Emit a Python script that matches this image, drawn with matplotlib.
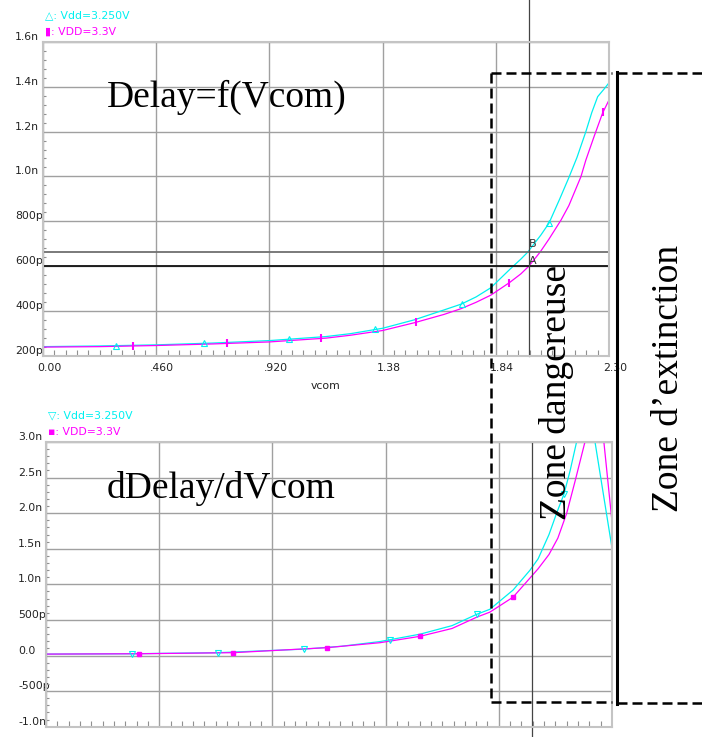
import numpy as np
import matplotlib
matplotlib.use("Agg")
import matplotlib.pyplot as plt
from matplotlib.lines import Line2D
from matplotlib.ticker import MultipleLocator
import matplotlib.transforms as mtransforms

# ---- Delay = f(Vcom), delay in ps ----
vcom_delay_3250 = [0.00, 0.23, 0.46, 0.69, 0.92, 1.15, 1.25, 1.38, 1.51, 1.63, 1.70,
                   1.76, 1.82, 1.897, 1.942, 1.969, 2.023, 2.056, 2.10, 2.137, 2.17,
                   2.206, 2.23, 2.254, 2.28, 2.30]
delay_vdd_3250 = [240, 243, 248, 256, 267, 285, 298, 322, 360, 404, 430,
                  462, 503, 585, 631, 661, 738, 791, 900, 995, 1085,
                  1200, 1285, 1356, 1390, 1418]

vcom_delay_3300 = [0.00, 0.23, 0.46, 0.69, 0.92, 1.15, 1.25, 1.38, 1.51, 1.63, 1.70,
                   1.76, 1.82, 1.897, 1.942, 1.975, 2.02, 2.056, 2.105, 2.137, 2.186,
                   2.206, 2.24, 2.274, 2.30]
delay_vdd_3300 = [238, 240, 245, 252, 261, 278, 291, 312, 347, 384, 410,
                  438, 470, 527, 565, 600, 662, 720, 805, 870, 999,
                  1073, 1180, 1283, 1341]

# ---- dDelay/dVcom, in ns/V ----
vcom_deriv_3250 = [0.00, 0.349, 0.70, 1.05, 1.20, 1.357, 1.52, 1.65, 1.751, 1.804,
                   1.898, 1.967, 2.00, 2.044, 2.075, 2.105, 2.13, 2.156, 2.19,
                   2.231, 2.30]
deriv_vdd_3250 = [0.020, 0.025, 0.040, 0.090, 0.130, 0.196, 0.300, 0.420, 0.580, 0.650,
                  0.920, 1.200, 1.360, 1.700, 2.000, 2.270, 2.600, 3.000, 3.400,
                  3.000, 1.510]

vcom_deriv_3300 = [0.00, 0.378, 0.76, 1.14, 1.357, 1.52, 1.65, 1.751, 1.804, 1.898,
                   1.967, 2.00, 2.044, 2.08, 2.116, 2.15, 2.19, 2.23, 2.267, 2.30]
deriv_vdd_3300 = [0.020, 0.025, 0.040, 0.110, 0.180, 0.270, 0.380, 0.540, 0.610, 0.820,
                  1.090, 1.220, 1.420, 1.650, 2.000, 2.450, 3.000, 3.500, 3.000, 1.880]

# marker positions along each trace
mark_delay_3250 = [0.297, 0.655, 1.001, 1.351, 1.701, 2.056]
mark_delay_3300 = [0.366, 0.749, 1.128, 1.514, 1.893, 2.276]
mark_deriv_3250 = [0.349, 0.699, 1.048, 1.398, 1.751, 2.105]
mark_deriv_3300 = [0.378, 0.760, 1.142, 1.520, 1.898]

# cursors
cursor_vcom = 1.975
cursor_a = 600   # ps
cursor_b = 662   # ps

x_ticks = [0.0, 0.46, 0.92, 1.38, 1.84, 2.30]
x_tick_labels = ["0.00", ".460", ".920", "1.38", "1.84", "2.30"]
top_y_ticks = [200, 400, 600, 800, 1000, 1200, 1400, 1600]
top_y_labels = ["200p", "400p", "600p", "800p", "1.0n", "1.2n", "1.4n", "1.6n"]
bot_y_ticks = [-1.0, -0.5, 0.0, 0.5, 1.0, 1.5, 2.0, 2.5, 3.0]
bot_y_labels = ["-1.0n", "-500p", "0.0", "500p", "1.0n", "1.5n", "2.0n", "2.5n", "3.0n"]

CYAN = "#00f0f0"
MAGENTA = "#ff00ff"
SMALL = ["Liberation Sans Narrow", "DejaVu Sans"]
SERIF = ["Liberation Serif", "DejaVu Serif"]

W, H = 702, 737
fig = plt.figure(figsize=(W / 100, H / 100), dpi=100)


def px_rect(left, top, right, bottom):
    return [left / W, 1 - bottom / H, (right - left) / W, (bottom - top) / H]


ax1 = fig.add_axes(px_rect(43, 42, 609, 355.6))
ax2 = fig.add_axes(px_rect(46, 442, 612, 726.7))


def style(ax):
    for sp in ax.spines.values():
        sp.set_color("#c4c4c4")
        sp.set_linewidth(1.5)
    ax.grid(which="major", color="#a0a0a0", lw=1.0)
    ax.set_axisbelow(True)
    ax.xaxis.set_minor_locator(MultipleLocator(0.046))
    ax.tick_params(which="major", length=0, labelsize=7.8, labelcolor="#222222")
    ax.tick_params(axis="x", which="minor", direction="in", length=4,
                   width=0.8, color="#909090", top=False)
    ax.tick_params(axis="y", which="minor", direction="in", length=2.5,
                   width=0.8, color="#909090", right=False)
    ax.tick_params(axis="y", pad=20)
    ax.set_xlim(0, 2.30)


style(ax1)
style(ax2)

# --- top panel: delay ---
ax1.set_ylim(200, 1600)
ax1.yaxis.set_minor_locator(MultipleLocator(40))
ax1.set_yticks(top_y_ticks, top_y_labels, va="bottom", ha="left", family=SMALL)
ax1.set_xticks(x_ticks, x_tick_labels, ha="left", family=SMALL)
ax1.tick_params(axis="x", pad=5)
shift = mtransforms.ScaledTranslation(-0.06, 0, fig.dpi_scale_trans)
for lab in ax1.get_xticklabels():
    lab.set_transform(lab.get_transform() + shift)
ax1.set_xlabel("vcom", family=SMALL, fontsize=7.8, color="#222222", labelpad=6)

ax1.plot(vcom_delay_3250, delay_vdd_3250, color=CYAN, lw=0.9)
ax1.plot(vcom_delay_3300, delay_vdd_3300, color=MAGENTA, lw=0.9)
ax1.plot(mark_delay_3250, np.interp(mark_delay_3250, vcom_delay_3250, delay_vdd_3250),
         ls="none", marker="^", ms=4, mfc="none", mec=CYAN, mew=0.8)
ax1.plot(mark_delay_3300, np.interp(mark_delay_3300, vcom_delay_3300, delay_vdd_3300),
         ls="none", marker="|", ms=6, mec=MAGENTA, mew=1.5)

ax1.axhline(cursor_b, color="#707070", lw=1.3)
ax1.axhline(cursor_a, color="#111111", lw=1.3)
ax1.axvline(cursor_vcom, ymin=0, ymax=1 + 42 / 313.6, color="#444444", lw=0.9,
            clip_on=False)
ax1.text(cursor_vcom + 0.014, 697, "B", fontsize=8, color="#333333",
         ha="center", va="center", family=SMALL)
ax1.text(cursor_vcom + 0.014, 624, "A", fontsize=8, color="#333333",
         ha="center", va="center", family=SMALL)

# --- bottom panel: derivative ---
ax2.set_ylim(-1.0, 3.0)
ax2.yaxis.set_minor_locator(MultipleLocator(0.1))
ax2.set_yticks(bot_y_ticks, bot_y_labels, va="bottom", ha="left", family=SMALL)
ax2.set_xticks(x_ticks, [""] * len(x_ticks))

ax2.plot(vcom_deriv_3250, deriv_vdd_3250, color=CYAN, lw=0.9)
ax2.plot(vcom_deriv_3300, deriv_vdd_3300, color=MAGENTA, lw=0.9)
ax2.plot(mark_deriv_3250, np.interp(mark_deriv_3250, vcom_deriv_3250, deriv_vdd_3250),
         ls="none", marker="v", ms=4, mfc="none", mec=CYAN, mew=0.8)
ax2.plot(mark_deriv_3300, np.interp(mark_deriv_3300, vcom_deriv_3300, deriv_vdd_3300),
         ls="none", marker="s", ms=2.5, mfc=MAGENTA, mec=MAGENTA)
ax2.axvline(cursor_vcom, ymin=-10.3 / 284.7, ymax=1, color="#444444", lw=0.9,
            clip_on=False)

# --- trace legends ---
def ftext(x, y, s, **kw):
    fig.text(x / W, 1 - y / H, s, **kw)


leg = dict(fontsize=7.8, va="center", ha="left", family=SMALL)
ftext(45, 15, "\u25b3: Vdd=3.250V", color=CYAN, **leg)
ftext(45, 32, "\u25ae: VDD=3.3V", color=MAGENTA, **leg)
ftext(48, 415, "\u25bd: Vdd=3.250V", color=CYAN, **leg)
ftext(48, 432, "\u25aa: VDD=3.3V", color=MAGENTA, **leg)

# --- annotations ---
big = dict(fontsize=27, family=SERIF, color="black")
ftext(107, 97, "Delay=f(Vcom)", ha="left", va="center", **big)
ftext(107, 488, "dDelay/dVcom", ha="left", va="center", **big)
ftext(557, 392, "Zone dangereuse", ha="center", va="center", rotation=90, **big)
ftext(669, 378, "Zone d\u2019extinction", ha="center", va="center", rotation=90, **big)


def fline(xs, ys, **kw):
    fig.add_artist(Line2D([x / W for x in xs], [1 - y / H for y in ys],
                          transform=fig.transFigure, **kw))


dash = dict(color="black", lw=1.8, ls=(0, (4, 2)))
fline([490.7, 490.7], [72.7, 702], **dash)
fline([490.7, 612], [72.7, 72.7], **dash)
fline([490.7, 612], [702, 702], **dash)
fline([617, 702], [72.7, 72.7], **dash)
fline([617, 702], [703, 703], **dash)
fline([617, 617], [72, 704], color="black", lw=2.2)

fig.savefig("out.png", dpi=100)
